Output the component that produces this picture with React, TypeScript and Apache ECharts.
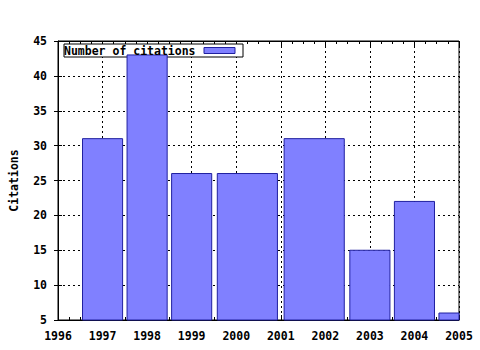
import React, { useEffect, useRef } from "react";
import * as echarts from "echarts";

const years = [1997, 1998, 1999, 2000, 2002, 2003, 2004, 2005];
const citations = [31, 43, 26, 26, 31, 15, 22, 6];
const seriesName = "Number of citations";
const X_MIN = 1996;
const X_MAX = 2005;
const Y_MIN = 5;
const Y_MAX = 45;
const BOX_REL = 0.9;

const FONT = "DejaVu Sans Mono";
const FILL = "#8080ff";
const EDGE = "#2020a0";

// gnuplot-style automatic box widths: half way to each neighbour, shrunk by BOX_REL
function boxes() {
  return years.map((x, i) => {
    const left = i > 0 ? (x - years[i - 1]) / 2 : (years[i + 1] - x) / 2;
    const right = i < years.length - 1 ? (years[i + 1] - x) / 2 : (x - years[i - 1]) / 2;
    const a = x - left;
    const b = x + right;
    const c = (a + b) / 2;
    const w = (b - a) * BOX_REL;
    return [c - w / 2, c + w / 2, citations[i]];
  });
}

export default function App() {
  const ref = useRef<HTMLDivElement>(null);
  useEffect(() => {
    if (!ref.current) return;
    const chart = echarts.init(ref.current, null, { renderer: "svg" });
    const text = { fontFamily: FONT, fontWeight: "bold" as const, fontSize: 11.5, color: "#000" };
    const grid = { type: [2, 3], color: "#000", width: 1 };
    chart.setOption({
      animation: false,
      backgroundColor: "#fff",
      grid: { left: 57, right: 21, top: 41, bottom: 30, show: true, borderColor: "#000", borderWidth: 1 },
      xAxis: [
        {
          type: "value",
          min: X_MIN,
          max: X_MAX,
          interval: 1,
          position: "bottom",
          axisLine: { show: true, lineStyle: { color: "#000" } },
          axisTick: { show: true, inside: true, length: 5, lineStyle: { color: "#000" } },
          minorTick: { show: true, splitNumber: 4, length: 3, lineStyle: { color: "#000" } },
          axisLabel: { ...text, margin: 10, formatter: (v: number) => String(v) },
          splitLine: { show: true, lineStyle: grid },
        },
        {
          type: "value",
          min: X_MIN,
          max: X_MAX,
          interval: 1,
          position: "top",
          axisLine: { show: true, lineStyle: { color: "#000" } },
          axisTick: { show: true, inside: true, length: 5, lineStyle: { color: "#000" } },
          minorTick: { show: true, splitNumber: 4, length: 3, lineStyle: { color: "#000" } },
          axisLabel: { show: false },
          splitLine: { show: false },
        },
      ],
      yAxis: [
        {
          type: "value",
          min: Y_MIN,
          max: Y_MAX,
          interval: 5,
          position: "left",
          offset: 0,
          name: "Citations",
          nameLocation: "middle",
          nameGap: 38,
          nameRotate: 90,
          nameTextStyle: { ...text },
          axisLine: { show: true, lineStyle: { color: "#000" } },
          axisTick: { show: true, inside: false, length: 4, lineStyle: { color: "#000" } },
          axisLabel: { ...text, margin: 11 },
          splitLine: { show: true, lineStyle: grid },
        },
        {
          type: "value",
          min: Y_MIN,
          max: Y_MAX,
          interval: 5,
          position: "left",
          offset: 0,
          axisLine: { show: false },
          axisTick: { show: true, inside: true, length: 4, lineStyle: { color: "#000" } },
          axisLabel: { show: false },
          splitLine: { show: false },
        },
      ],
      graphic: [
        {
          type: "rect",
          z: 1,
          shape: { x: 64, y: 44, width: 179, height: 13 },
          style: { fill: "#fff", stroke: "#000", lineWidth: 1 },
        },
        {
          type: "text",
          z: 10,
          x: 64,
          y: 51,
          style: {
            text: seriesName,
            fill: "#000",
            font: `bold 11.5px "${FONT}"`,
            verticalAlign: "middle",
            align: "left",
          },
        },
        {
          type: "rect",
          z: 10,
          shape: { x: 204, y: 47.5, width: 31, height: 6 },
          style: { fill: FILL, stroke: EDGE, lineWidth: 1 },
        },
      ],
      series: [
        {
          type: "custom",
          name: seriesName,
          xAxisIndex: 0,
          yAxisIndex: 0,
          z: 2,
          data: boxes(),
          renderItem: (params: any, api: any) => {
            const x0 = api.value(0);
            const x1 = api.value(1);
            const v = api.value(2);
            const p0 = api.coord([x0, v]);
            const p1 = api.coord([x1, Y_MIN]);
            const r = echarts.graphic.clipRectByRect(
              { x: p0[0], y: p0[1], width: p1[0] - p0[0], height: p1[1] - p0[1] },
              params.coordSys
            );
            if (!r) return null;
            return {
              type: "rect",
              shape: r,
              style: { fill: FILL, stroke: EDGE, lineWidth: 1 },
            };
          },
        },
      ],
    });
    return () => chart.dispose();
  }, []);
  return (
    <div
      ref={ref}
      style={{ position: "absolute", left: 0, top: 0, width: 480, height: 350 }}
    />
  );
}
